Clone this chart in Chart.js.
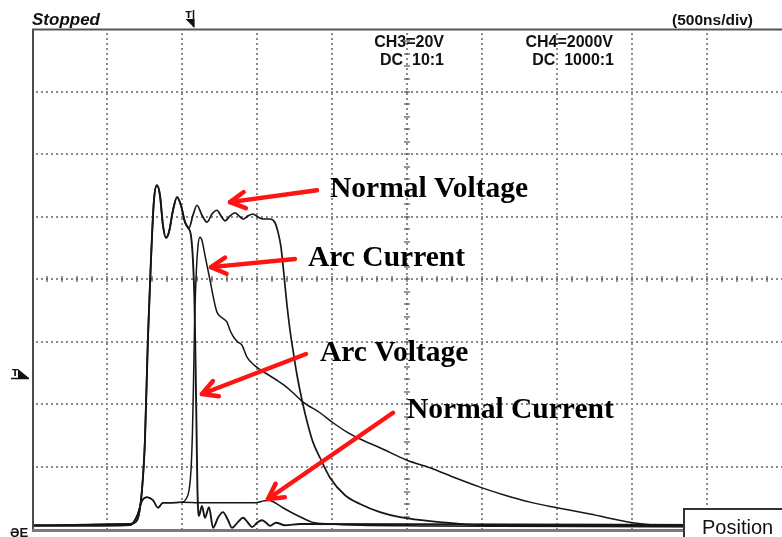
<!DOCTYPE html>
<html>
<head>
<meta charset="UTF-8">
<title>Normal vs arc discharge</title>
<script src="https://cdn.jsdelivr.net/npm/chart.js"></script>
<style>
  html, body { margin: 0; padding: 0; background: #fff; }
  #wrap { position: relative; width: 782px; height: 537px; overflow: hidden; }
</style>
</head>
<body>
<div id="wrap"><canvas id="scope" width="782" height="537"></canvas></div>
<script>
// Time in ns from the left edge of the screen (500 ns/div, 10 div wide).
// Amplitude in screen divisions (8 div tall, 0 = centre graticule line).

const normalVoltageT = [0, 653, 700, 733, 753, 773, 793, 813, 833, 853, 873, 893, 913, 940, 967, 993, 1020, 1047, 1073, 1100,
  1133, 1167, 1200, 1233, 1260, 1287, 1320, 1353, 1380, 1407, 1440, 1473, 1507, 1540, 1587, 1620, 1640, 1660, 1680, 1700,
  1720, 1740, 1767, 1800, 1840, 1873, 1920, 1987, 2087, 2187, 2320, 2453, 2720, 2987, 3520, 5000];
const normalVoltageV = [-3.94, -3.92, -3.86, -3.38, -2.58, -0.93, 0.30, 1.26, 1.50, 1.34, 0.86, 0.66, 0.75, 1.10, 1.31, 1.18, 0.91, 0.82, 1.02, 1.18,
  1.02, 0.91, 1.04, 1.10, 1.01, 0.93, 1.01, 1.06, 1.01, 0.96, 1.01, 1.04, 0.99, 0.96, 0.96, 0.90, 0.75, 0.51, 0.06, -0.42,
  -0.82, -1.14, -1.54, -1.94, -2.34, -2.61, -2.86, -3.18, -3.46, -3.60, -3.73, -3.81, -3.89, -3.94, -3.95, -3.95];

const arcVoltageT = [0, 653, 700, 733, 753, 773, 793, 813, 833, 853, 873, 893, 913, 940, 967, 993, 1020,
  1040, 1060, 1073, 1083, 1090, 1097, 1103, 1113, 1133, 1153, 1180, 1207, 1240, 1273, 1307, 1333, 1373, 1407, 1440, 1467,
  1500, 1533, 1560, 1587, 1627, 1687, 1787, 5000];
const arcVoltageV = [-3.94, -3.92, -3.86, -3.38, -2.58, -0.93, 0.30, 1.26, 1.50, 1.34, 0.86, 0.66, 0.75, 1.10, 1.31, 1.18, 0.91,
  0.82, 0.69, 0.30, -0.34, -1.30, -2.42, -3.38, -3.79, -3.63, -3.82, -3.65, -3.98, -3.82, -3.73, -3.86, -3.98, -3.89, -3.82, -3.90, -3.97,
  -3.90, -3.86, -3.90, -3.95, -3.90, -3.94, -3.92, -3.94];

const arcCurrentT = [0, 653, 700, 733, 767, 807, 840, 873, 920, 1000, 1027, 1047, 1060, 1070, 1077, 1083, 1093, 1107, 1120, 1133,
  1153, 1187, 1213, 1233, 1267, 1300, 1320, 1347, 1373, 1400, 1433, 1487, 1553, 1633, 1687, 1740, 1807, 1920, 2007, 2100,
  2187, 2320, 2500, 2653, 2820, 2987, 3153, 3320, 3500, 3720, 4007, 4187, 5000];
const arcCurrentV = [-3.95, -3.94, -3.79, -3.55, -3.49, -3.54, -3.66, -3.58, -3.58, -3.57, -3.52, -3.38, -3.06, -2.42, -1.62, -0.82, -0.02, 0.54, 0.67, 0.62,
  0.38, -0.02, -0.34, -0.53, -0.62, -0.69, -0.82, -0.94, -1.01, -1.06, -1.25, -1.39, -1.50, -1.62, -1.71, -1.82, -1.97, -2.14, -2.30, -2.45,
  -2.56, -2.70, -2.90, -3.02, -3.18, -3.33, -3.46, -3.57, -3.66, -3.76, -3.90, -3.94, -3.95];

const normalCurrentT = [0, 653, 700, 733, 767, 807, 840, 873, 920, 1000, 1120, 1320, 1487, 1547, 1580, 1620, 1673, 1733, 1800, 1867,
  1987, 2187, 2587, 5000];
const normalCurrentV = [-3.95, -3.94, -3.79, -3.55, -3.49, -3.54, -3.66, -3.58, -3.58, -3.57, -3.58, -3.58, -3.58, -3.55, -3.54, -3.58, -3.66, -3.74, -3.82, -3.89,
  -3.92, -3.94, -3.95, -3.97];

// trigger point (time, level)
const triggerTime = 1073;
const triggerLevel = -1.57;

// annotation text and where each arrow starts / ends (same units as the traces)
const labels = [
  { text: 'Normal Voltage', at: [1987, 1.31], tail: [1900, 1.42], tip: [1320, 1.23] },
  { text: 'Arc Current',    at: [1840, 0.21], tail: [1753, 0.32], tip: [1193, 0.19] },
  { text: 'Arc Voltage',    at: [1920, -1.31], tail: [1827, -1.20], tip: [1133, -1.84] },
  { text: 'Normal Current', at: [2500, -2.22], tail: [2407, -2.14], tip: [1573, -3.52] }
];

const pts = (t, v) => t.map((x, i) => ({ x: x, y: v[i] }));

const TRACE = '#161616';

function line(ctx, x1, y1, x2, y2) {
  ctx.beginPath();
  ctx.moveTo(x1, y1);
  ctx.lineTo(x2, y2);
  ctx.stroke();
}

// graticule, frame, scope readouts and the red call-outs
const scopeScreen = {
  id: 'scopeScreen',
  beforeDatasetsDraw(chart) {
    const { ctx, chartArea: a, scales: { x, y } } = chart;
    ctx.save();
    ctx.strokeStyle = '#8a8a8a';
    ctx.lineWidth = 2;
    ctx.setLineDash([2, 3]);
    for (let i = 1; i < 10; i++) {
      const px = Math.round(x.getPixelForValue(i * 500));
      line(ctx, px, a.top + 4, px, a.bottom);
    }
    for (let j = -3; j <= 3; j++) {
      const py = Math.round(y.getPixelForValue(j));
      line(ctx, a.left + 4, py, a.right, py);
    }
    ctx.setLineDash([]);

    // minor ticks on the centre axes, 5 per division
    ctx.strokeStyle = '#555';
    ctx.lineWidth = 1.2;
    const cx = Math.round(x.getPixelForValue(2500));
    const cy = Math.round(y.getPixelForValue(0));
    for (let k = 1; k < 50; k++) {
      const px = Math.round(x.getPixelForValue(k * 100));
      line(ctx, px, cy - 3, px, cy + 3);
    }
    for (let k = -19; k < 20; k++) {
      const py = Math.round(y.getPixelForValue(k * 0.2));
      line(ctx, cx - 3, py, cx + 3, py);
    }
    ctx.restore();
  },
  afterDatasetsDraw(chart) {
    const { ctx, chartArea: a, scales: { x, y } } = chart;
    ctx.save();

    // red arrows
    ctx.strokeStyle = '#ff1414';
    ctx.lineWidth = 4.5;
    ctx.lineCap = 'round';
    ctx.lineJoin = 'round';
    labels.forEach(l => {
      const x1 = x.getPixelForValue(l.tail[0]), y1 = y.getPixelForValue(l.tail[1]);
      const x2 = x.getPixelForValue(l.tip[0]), y2 = y.getPixelForValue(l.tip[1]);
      line(ctx, x1, y1, x2, y2);
      const ang = Math.atan2(y1 - y2, x1 - x2);
      const len = 17, spread = 0.5;
      ctx.beginPath();
      ctx.moveTo(x2 + len * Math.cos(ang + spread), y2 + len * Math.sin(ang + spread));
      ctx.lineTo(x2, y2);
      ctx.lineTo(x2 + len * Math.cos(ang - spread), y2 + len * Math.sin(ang - spread));
      ctx.stroke();
    });

    // call-out text
    ctx.fillStyle = '#000';
    ctx.font = 'bold 29.5px "Liberation Serif", "Times New Roman", serif';
    ctx.textBaseline = 'alphabetic';
    labels.forEach(l => {
      ctx.fillText(l.text, x.getPixelForValue(l.at[0]), y.getPixelForValue(l.at[1]));
    });

    // frame
    ctx.lineCap = 'butt';
    ctx.strokeStyle = '#4a4a4a';
    ctx.lineWidth = 2;
    line(ctx, a.left + 1, a.top, a.left + 1, a.bottom + 2);
    ctx.strokeStyle = '#555';
    line(ctx, a.left, a.top + 0.5, a.right, a.top + 0.5);
    ctx.strokeStyle = '#7a7a7a';
    ctx.lineWidth = 3;
    line(ctx, a.left, a.bottom + 1.5, a.right, a.bottom + 1.5);
    ctx.restore();
  },
  afterDraw(chart) {
    const { ctx, chartArea: a, scales: { x, y } } = chart;
    ctx.save();
    ctx.fillStyle = '#111';
    ctx.textBaseline = 'alphabetic';

    ctx.font = 'italic bold 17px "Liberation Sans", Arial, sans-serif';
    ctx.fillText('Stopped', a.left, 25);

    ctx.font = 'bold 15.5px "Liberation Sans", Arial, sans-serif';
    ctx.textAlign = 'right';
    ctx.fillText('(500ns/div)', 753, 25);

    ctx.font = 'bold 16px "Liberation Sans", Arial, sans-serif';
    ctx.fillText('CH3=20V', 444, 47);
    ctx.fillText('DC  10:1', 444, 65);
    ctx.fillText('CH4=2000V', 613, 47);
    ctx.fillText('DC  1000:1', 614, 65);
    ctx.textAlign = 'left';

    // trigger position marker above the screen
    const tx = Math.round(x.getPixelForValue(triggerTime)) + 0.5;
    ctx.font = 'bold 9px "DejaVu Sans", sans-serif';
    ctx.fillText('T', tx - 8, 18);
    ctx.strokeStyle = '#111';
    ctx.lineWidth = 1.5;
    line(ctx, tx, 10, tx, 27);
    ctx.beginPath();
    ctx.moveTo(tx - 8, 19);
    ctx.lineTo(tx + 1, 19);
    ctx.lineTo(tx + 1, 28);
    ctx.closePath();
    ctx.fill();

    // trigger level marker left of the screen
    const ty = Math.round(y.getPixelForValue(triggerLevel));
    ctx.fillText('T', 12, ty - 1);
    ctx.beginPath();
    ctx.moveTo(18, ty - 8);
    ctx.lineTo(29, ty + 1);
    ctx.lineTo(18, ty + 1);
    ctx.closePath();
    ctx.fill();
    line(ctx, 11, ty + 1.5, 29, ty + 1.5);

    // channel ground markers
    ctx.font = 'bold 13px "Liberation Sans", Arial, sans-serif';
    ctx.fillText('\u018FE', 10, 537);

    // soft-key box
    ctx.fillStyle = '#fff';
    ctx.fillRect(684, 509, 110, 40);
    ctx.strokeStyle = '#333';
    ctx.lineWidth = 2;
    ctx.strokeRect(684, 509, 110, 40);
    ctx.fillStyle = '#111';
    ctx.font = '20px "Liberation Sans", Arial, sans-serif';
    ctx.fillText('Position', 702, 534);
    ctx.restore();
  }
};

const traceStyle = {
  borderColor: TRACE,
  borderWidth: 1.5,
  pointRadius: 0,
  cubicInterpolationMode: 'monotone',
  fill: false
};

new Chart(document.getElementById('scope'), {
  type: 'line',
  data: {
    datasets: [
      Object.assign({ label: 'Normal Current', data: pts(normalCurrentT, normalCurrentV) }, traceStyle),
      Object.assign({ label: 'Arc Current', data: pts(arcCurrentT, arcCurrentV) }, traceStyle),
      Object.assign({ label: 'Normal Voltage', data: pts(normalVoltageT, normalVoltageV) }, traceStyle, { borderWidth: 1.7 }),
      Object.assign({ label: 'Arc Voltage', data: pts(arcVoltageT, arcVoltageV) }, traceStyle, { borderWidth: 1.9 })
    ]
  },
  options: {
    responsive: false,
    animation: false,
    events: [],
    layout: { padding: { left: 32, top: 29, right: 0, bottom: 8 } },
    scales: {
      x: { type: 'linear', min: 0, max: 5000, display: false },
      y: { type: 'linear', min: -4, max: 4, display: false }
    },
    plugins: {
      legend: { display: false },
      tooltip: { enabled: false }
    }
  },
  plugins: [scopeScreen]
});
</script>
</body>
</html>
